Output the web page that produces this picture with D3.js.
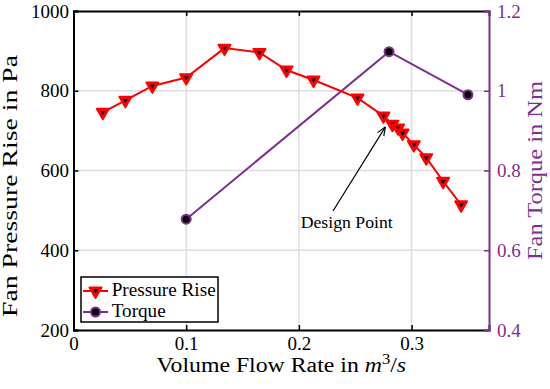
<!DOCTYPE html>
<html>
<head>
<meta charset="utf-8">
<script src="https://cdn.jsdelivr.net/npm/d3@7"></script>
<style>
  body { margin: 0; background: #fff; }
  text { font-family: "Liberation Serif", "Times New Roman", serif; }
</style>
</head>
<body>
<script>
// pressure rise curve
const flowP = [0.026, 0.046, 0.070, 0.100, 0.134, 0.165, 0.189, 0.213, 0.252, 0.275, 0.283, 0.288, 0.292, 0.302, 0.313, 0.328, 0.344];
const pressure = [746, 776, 812, 833, 907, 896, 852, 827, 782, 737, 716, 707, 694, 665, 632, 573, 514];

// torque curve
const flowT = [0.1, 0.28, 0.35];
const torque = [0.678, 1.098, 0.99];

const xTicks = [0, 0.1, 0.2, 0.3];
const yTicks = [200, 400, 600, 800, 1000];
const y2Ticks = [0.4, 0.6, 0.8, 1, 1.2];

const designPoint = [0.275, 737];

const w = 550;
const h = 389;
const pLeft = 73.5, pRight = 489, pTop = 11, pBottom = 330;
const red = "#ff0000";
const purple = "#7e2f8e";

const xScale = d3.scaleLinear().domain([0, 0.3687]).range([pLeft, pRight]);
const yScale = d3.scaleLinear().domain([200, 1000]).range([pBottom, pTop]);
const y2Scale = d3.scaleLinear().domain([0.4, 1.2]).range([pBottom, pTop]);

const svg = d3.select("body")
  .append("svg")
  .attr("width", w)
  .attr("height", h);

// grid
svg.append("g")
  .selectAll("line")
  .data(xTicks.slice(1))
  .enter()
  .append("line")
  .attr("x1", d => xScale(d)).attr("x2", d => xScale(d))
  .attr("y1", pTop).attr("y2", pBottom)
  .attr("stroke", "#dedede").attr("stroke-width", 1.5);

svg.append("g")
  .selectAll("line")
  .data(yTicks.slice(1, -1))
  .enter()
  .append("line")
  .attr("x1", pLeft).attr("x2", pRight)
  .attr("y1", d => yScale(d)).attr("y2", d => yScale(d))
  .attr("stroke", "#dedede").attr("stroke-width", 1.5);

// axes
const xAxis = d3.axisBottom(xScale).tickValues(xTicks).tickSize(-5).tickPadding(7).tickFormat(d => d === 0 ? "0" : d3.format(".1f")(d));
const xAxisTop = d3.axisTop(xScale).tickValues(xTicks).tickSize(-5).tickFormat("");
const yAxis = d3.axisLeft(yScale).tickValues(yTicks).tickSize(-5).tickPadding(4.5).tickFormat(d3.format("d"));
const y2Axis = d3.axisRight(y2Scale).tickValues(y2Ticks).tickSize(-5).tickPadding(8).tickFormat(d => d === 1 ? "1" : d3.format(".1f")(d));

const gx = svg.append("g").attr("transform", `translate(0,${pBottom})`).call(xAxis);
const gxt = svg.append("g").attr("transform", `translate(0,${pTop})`).call(xAxisTop);
const gy = svg.append("g").attr("transform", `translate(${pLeft},0)`).call(yAxis);
const gy2 = svg.append("g").attr("transform", `translate(${pRight},0)`).call(y2Axis);

[gx, gxt, gy].forEach(g => {
  g.select(".domain").attr("stroke", "#000").attr("stroke-width", 2);
  g.selectAll(".tick line").attr("stroke", "#000").attr("stroke-width", 1.5);
  g.selectAll(".tick text").attr("fill", "#000").style("font-size", "19px");
});
gy2.select(".domain").attr("stroke", purple).attr("stroke-width", 2);
gy2.selectAll(".tick line").attr("stroke", purple).attr("stroke-width", 1.5);
gy2.selectAll(".tick text").attr("fill", purple).style("font-size", "19px");

// axis titles
const xl = svg.append("text")
  .attr("transform", `translate(${(pLeft + pRight) / 2},372)scale(1.19,1)`)
  .attr("text-anchor", "middle")
  .style("font-size", "20px");
xl.append("tspan").text("Volume Flow Rate in ");
xl.append("tspan").attr("font-style", "italic").text("m");
xl.append("tspan").attr("dy", -8).style("font-size", "14px").text("3");
xl.append("tspan").attr("dy", 8).text("/");
xl.append("tspan").attr("font-style", "italic").text("s");

svg.append("text")
  .attr("transform", "translate(17,186)rotate(-90)")
  .attr("text-anchor", "middle")
  .attr("textLength", 262)
  .attr("lengthAdjust", "spacingAndGlyphs")
  .style("font-size", "20px")
  .text("Fan Pressure Rise in Pa");

svg.append("text")
  .attr("transform", `translate(542,${(pTop + pBottom) / 2})rotate(-90)`)
  .attr("text-anchor", "middle")
  .attr("textLength", 179)
  .attr("lengthAdjust", "spacingAndGlyphs")
  .attr("fill", purple)
  .style("font-size", "20px")
  .text("Fan Torque in Nm");

// lines
const pData = flowP.map((d, i) => [d, pressure[i]]);
const tData = flowT.map((d, i) => [d, torque[i]]);

svg.append("path")
  .datum(tData)
  .attr("fill", "none")
  .attr("stroke", purple)
  .attr("stroke-width", 2)
  .attr("d", d3.line().x(d => xScale(d[0])).y(d => y2Scale(d[1])));

svg.append("path")
  .datum(pData)
  .attr("fill", "none")
  .attr("stroke", red)
  .attr("stroke-width", 2)
  .attr("d", d3.line().x(d => xScale(d[0])).y(d => yScale(d[1])));

const tri = d3.symbol().type(d3.symbolTriangle).size(62);
const triSmall = d3.symbol().type(d3.symbolTriangle).size(10);

function triMarker(g, x, y) {
  g.append("path").attr("d", tri()).attr("transform", `translate(${x},${y})rotate(180)`)
    .attr("fill", red).attr("stroke", red).attr("stroke-width", 2).attr("stroke-linejoin", "round");
  g.append("path").attr("d", triSmall()).attr("transform", `translate(${x},${y})rotate(180)`)
    .attr("fill", "#000");
}
function dotMarker(g, x, y) {
  g.append("circle").attr("cx", x).attr("cy", y).attr("r", 4.5)
    .attr("fill", "#000").attr("stroke", purple).attr("stroke-width", 2);
}

const pm = svg.append("g");
pData.forEach(d => triMarker(pm, xScale(d[0]), yScale(d[1])));
const tm = svg.append("g");
tData.forEach(d => dotMarker(tm, xScale(d[0]), y2Scale(d[1])));

// annotation
svg.append("defs").append("marker")
  .attr("id", "arrow")
  .attr("viewBox", "0 0 10 10")
  .attr("refX", 10).attr("refY", 5)
  .attr("markerWidth", 9).attr("markerHeight", 9)
  .attr("markerUnits", "userSpaceOnUse")
  .attr("orient", "auto")
  .append("path")
  .attr("d", "M0,1 L10,5 L0,9")
  .attr("fill", "none")
  .attr("stroke", "#000")
  .attr("stroke-width", 1.3);

svg.append("line")
  .attr("x1", 333).attr("y1", 211)
  .attr("x2", xScale(designPoint[0]) + 2).attr("y2", yScale(designPoint[1]) + 11)
  .attr("stroke", "#000").attr("stroke-width", 1.2)
  .attr("marker-end", "url(#arrow)");

svg.append("text")
  .attr("x", 300.7).attr("y", 228)
  .attr("textLength", 92)
  .attr("lengthAdjust", "spacingAndGlyphs")
  .style("font-size", "16px")
  .text("Design Point");

// legend
const lg = svg.append("g").attr("transform", "translate(81,277)");
lg.append("rect").attr("width", 137).attr("height", 45)
  .attr("fill", "#fff").attr("stroke", "#000").attr("stroke-width", 1.5);
const items = [
  { name: "Pressure Rise", color: red, y: 14, len: 104, mk: triMarker },
  { name: "Torque", color: purple, y: 35, len: 54, mk: dotMarker }
];
items.forEach(it => {
  lg.append("line").attr("x1", 2).attr("x2", 27).attr("y1", it.y).attr("y2", it.y)
    .attr("stroke", it.color).attr("stroke-width", 2);
  it.mk(lg, 14.5, it.y);
  lg.append("text").attr("x", 30.7).attr("y", it.y + 4.5)
    .attr("textLength", it.len)
    .attr("lengthAdjust", "spacingAndGlyphs")
    .style("font-size", "18px").text(it.name);
});
</script>
</body>
</html>
